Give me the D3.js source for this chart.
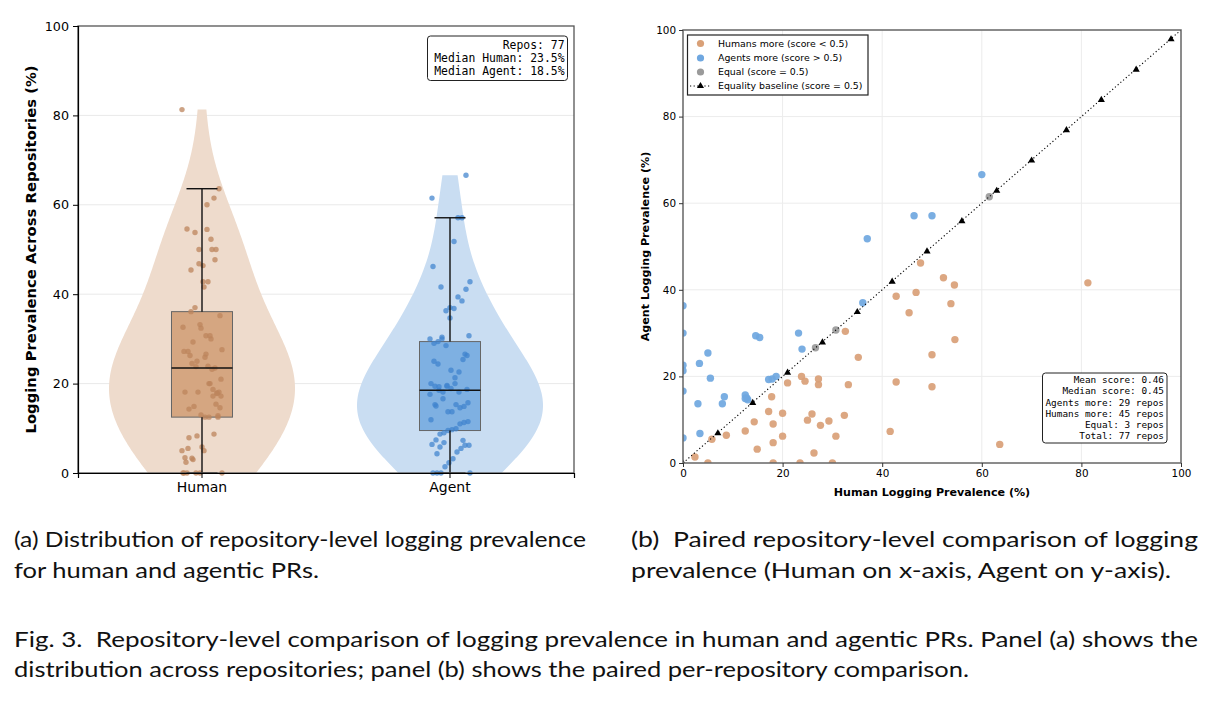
<!DOCTYPE html>
<html><head><meta charset="utf-8">
<script src="https://cdn.jsdelivr.net/npm/d3@7"></script>
<style>body{margin:0;background:#fff}svg{display:block}</style>
</head><body>
<svg id="c" width="1214" height="703"></svg>
<script>
// ---------- DATA ----------
const categories = ["Human", "Agent"];
// paired repository values (Human %, Agent %)
const humanVals = [
  81.3,63.6,47.7,52.3,54.5,42.8,46.8,53.8,45.4,54.6,32.6,35.2,50.0,50.0,42.8,41.6,33.2,23.8,24.5,27.2,27.2,21.0,17.8,17.2,20.0,25.9,32.4,25.0,29.3,14.3,18.1,27.6,12.5,8.7,20.0,30.7,5.8,18.1,14.9,26.3,2.4,5.0,18.1,23.5,30.0,
  60.0,46.4,50.0,37.0,36.1,0,0,14.6,15.4,23.2,23.9,5.0,0,0,3.3,5.5,0,17.2,17.9,18.7,12.5,12.5,13.0,8.3,3.0,7.9,3.4,0,12.8,
  61.5,30.7,26.6
];
const agentVals = [
  41.6,4.3,46.2,42.8,41.1,38.5,39.4,36.8,34.7,28.5,30.4,24.4,25.0,17.6,18.7,7.3,18.1,20.0,18.9,19.4,18.1,18.5,15.3,11.9,11.5,11.3,11.0,9.9,9.7,9.5,9.0,8.7,7.4,6.4,6.2,6.2,5.5,4.7,3.2,2.3,1.4,0,0,0,0,
  66.6,57.1,57.1,51.8,37.0,36.3,30.0,29.4,29.0,30.0,26.3,25.4,22.6,21.3,23.0,19.6,16.6,19.3,19.4,20.0,15.7,14.9,14.6,15.3,13.7,13.7,6.8,5.8,15.0,
  61.5,30.7,26.6
];
const yTicks = [0, 20, 40, 60, 80, 100];
const xTicksR = [0, 20, 40, 60, 80, 100];
const baselineMarks = [0,7,14,21,28,35,42,49,56,63,70,77,84,91,98];
const leftStats = ["Repos: 77", "Median Human: 23.5%", "Median Agent: 18.5%"];
const rightStats = ["Mean score: 0.46","Median score: 0.45","Agents more: 29 repos","Humans more: 45 repos","Equal: 3 repos","Total: 77 repos"];
const legendLabels = ["Humans more (score < 0.5)","Agents more (score > 0.5)","Equal (score = 0.5)","Equality baseline (score = 0.5)"];
const captionA = ["(a) Distribution of repository-level logging prevalence","for human and agentic PRs."];
const captionB = ["(b)  Paired repository-level comparison of logging","prevalence (Human on x-axis, Agent on y-axis)."];
const captionFig = ["Fig. 3.  Repository-level comparison of logging prevalence in human and agentic PRs. Panel (a) shows the","distribution across repositories; panel (b) shows the paired per-repository comparison."];

// ---------- STYLE ----------
const C = {
  hViolin:"#eedbcc", aViolin:"#c9ddf2",
  hBox:"#d5a681", aBox:"#7eb0e2",
  hPt:"rgba(188,132,92,0.75)", aPt:"rgba(62,130,205,0.72)",
  sHuman:"#d9a077", sAgent:"#6fa7e0", sEqual:"#9a9a9a"
};
const svg = d3.select("#c");
const font = "DejaVu Sans, sans-serif";
const mono = "DejaVu Sans Mono, monospace";

// ================= LEFT PANEL =================
const L = {x0:78, x1:574, y0:26, y1:473};
const yL = d3.scaleLinear().domain([0,100]).range([L.y1, L.y0]);
const xL = d3.scaleBand().domain(categories).range([L.x0, L.x1]).padding(0);
const cx = c => xL(c) + xL.bandwidth()/2;

const gL = svg.append("g");
gL.selectAll("line.grid").data(yTicks.filter(t=>t>0 && t<100)).enter().append("line")
  .attr("x1",L.x0).attr("x2",L.x1).attr("y1",d=>yL(d)).attr("y2",d=>yL(d))
  .attr("stroke","#e9e9e9").attr("stroke-width",1);

const series = {Human: humanVals, Agent: agentVals};
function kde(vals){
  const n = vals.length, sd = d3.deviation(vals);
  const bw = 1.45 * sd * Math.pow(n, -0.2);
  const lo = d3.min(vals), hi = d3.max(vals);
  const pts = d3.range(0, 201).map(i => lo + (hi-lo)*i/200);
  return pts.map(v => [v, d3.mean(vals, x => Math.exp(-0.5*((v-x)/bw)**2))]);
}
const halfMax = 93;
categories.forEach((c,ci) => {
  const dens = kde(series[c]);
  const m = d3.max(dens, d=>d[1]);
  const w = d3.scaleLinear().domain([0,m]).range([0,halfMax]);
  const area = d3.area().curve(d3.curveBasis)
    .x0(d => cx(c) - w(d[1])).x1(d => cx(c) + w(d[1])).y(d => yL(d[0]));
  gL.append("path").datum(dens).attr("d", area)
    .attr("fill", ci===0 ? C.hViolin : C.aViolin);
});
const boxW = 61;
const stats = {};
categories.forEach((c,ci) => {
  const s = series[c].slice().sort(d3.ascending);
  const q1 = d3.quantileSorted(s,0.25), q2 = d3.quantileSorted(s,0.5), q3 = d3.quantileSorted(s,0.75);
  const iqr = q3-q1;
  const hiW = d3.max(s.filter(v => v <= q3+1.5*iqr));
  const loW = d3.min(s.filter(v => v >= q1-1.5*iqr));
  stats[c] = {q1,q2,q3,hiW,loW};
  gL.append("rect").attr("x",cx(c)-boxW/2).attr("width",boxW)
    .attr("y",yL(q3)).attr("height",yL(q1)-yL(q3))
    .attr("fill", ci===0 ? C.hBox : C.aBox).attr("stroke","#666").attr("stroke-width",1);
});
// strip points (deterministic jitter offsets)
categories.forEach((c,ci) => {
  gL.selectAll("circle.s"+ci).data(series[c]).enter().append("circle")
    .attr("cx",(d,i) => cx(c) + ((((i*37+ci*11)%41)/40) - 0.5) * 40)
    .attr("cy",d => yL(d)).attr("r",2.7)
    .attr("fill", ci===0 ? C.hPt : C.aPt);
});
categories.forEach(c => {
  const st = stats[c];
  gL.append("line").attr("x1",cx(c)).attr("x2",cx(c)).attr("y1",yL(st.q3)).attr("y2",yL(st.hiW)).attr("stroke","#111").attr("stroke-width",1.4);
  gL.append("line").attr("x1",cx(c)).attr("x2",cx(c)).attr("y1",yL(st.q1)).attr("y2",yL(st.loW)).attr("stroke","#111").attr("stroke-width",1.4);
  [st.hiW, st.loW].forEach(v => gL.append("line").attr("x1",cx(c)-15.5).attr("x2",cx(c)+15.5)
    .attr("y1",yL(v)).attr("y2",yL(v)).attr("stroke","#111").attr("stroke-width",1.4));
  gL.append("line").attr("x1",cx(c)-boxW/2).attr("x2",cx(c)+boxW/2).attr("y1",yL(st.q2)).attr("y2",yL(st.q2))
    .attr("stroke","#111").attr("stroke-width",1.6);
});
gL.append("rect").attr("x",L.x0).attr("y",L.y0).attr("width",L.x1-L.x0).attr("height",L.y1-L.y0)
  .attr("fill","none").attr("stroke","#555").attr("stroke-width",1.3);
const axL = gL.append("g").attr("transform",`translate(${L.x0},0)`)
  .call(d3.axisLeft(yL).tickValues(yTicks).tickSize(5).tickPadding(4));
axL.select(".domain").attr("stroke","#000").attr("stroke-width",1.2);
axL.selectAll("text").attr("font-family",font).attr("font-size",12.7).attr("fill","#000");
const axLb = gL.append("g").attr("transform",`translate(0,${L.y1})`)
  .call(d3.axisBottom(xL).tickSize(5).tickPadding(4));
axLb.select(".domain").attr("stroke","#000").attr("stroke-width",1.2);
axLb.selectAll("text").attr("font-family",font).attr("font-size",14).attr("fill","#000");
gL.append("text").attr("transform",`translate(31,${(L.y0+L.y1)/2}) rotate(-90)`)
  .attr("text-anchor","middle").attr("dy","0.35em").attr("font-family",font)
  .attr("font-weight","bold").attr("font-size",14.8).text("Logging Prevalence Across Repositories (%)");
gL.append("rect").attr("x",427.5).attr("y",36).attr("width",140).attr("height",44.5).attr("rx",3)
  .attr("fill","#fff").attr("stroke","#222").attr("stroke-width",1);
gL.selectAll("text.ls").data(leftStats).enter().append("text")
  .attr("x",564.5).attr("y",(d,i)=>45+i*13.2).attr("dy","0.35em").attr("text-anchor","end")
  .attr("font-family",mono).attr("font-size",11.4).text(d=>d);

// ================= RIGHT PANEL =================
const R = {x0:683, x1:1181, y0:30, y1:463};
const xR = d3.scaleLinear().domain([0,100]).range([R.x0,R.x1]);
const yR = d3.scaleLinear().domain([0,100]).range([R.y1,R.y0]);
const gR = svg.append("g");
svg.append("defs").append("clipPath").attr("id","clipR").append("rect")
  .attr("x",R.x0).attr("y",R.y0).attr("width",R.x1-R.x0).attr("height",R.y1-R.y0);
gR.selectAll("line.gx").data(xTicksR.filter(t=>t>0&&t<100)).enter().append("line")
  .attr("x1",d=>xR(d)).attr("x2",d=>xR(d)).attr("y1",R.y0).attr("y2",R.y1).attr("stroke","#ececec");
gR.selectAll("line.gy").data(yTicks.filter(t=>t>0&&t<100)).enter().append("line")
  .attr("y1",d=>yR(d)).attr("y2",d=>yR(d)).attr("x1",R.x0).attr("x2",R.x1).attr("stroke","#ececec");
const pairs = humanVals.map((h,i) => ({h, a: agentVals[i]}));
const grp = p => p.a > p.h ? "agent" : (p.a < p.h ? "human" : "equal");
const colorOf = {human:C.sHuman, agent:C.sAgent, equal:C.sEqual};
const gp = gR.append("g").attr("clip-path","url(#clipR)");
["human","agent","equal"].forEach(k => {
  gp.selectAll("circle."+k).data(pairs.filter(p=>grp(p)===k)).enter().append("circle")
    .attr("cx",d=>xR(d.h)).attr("cy",d=>yR(d.a)).attr("r",3.7).attr("fill",colorOf[k]).attr("fill-opacity",0.92);
});
gp.append("line").attr("x1",xR(0)).attr("y1",yR(0)).attr("x2",xR(100)).attr("y2",yR(100))
  .attr("stroke","#000").attr("stroke-width",1.1).attr("stroke-dasharray","1.2,2.4");
const tri = d3.symbol().type(d3.symbolTriangle).size(22);
gp.selectAll("path.tri").data(baselineMarks).enter().append("path")
  .attr("d",tri).attr("transform",d=>`translate(${xR(d)},${yR(d)+0.6})`).attr("fill","#000");
gR.append("rect").attr("x",R.x0).attr("y",R.y0).attr("width",R.x1-R.x0).attr("height",R.y1-R.y0)
  .attr("fill","none").attr("stroke","#666").attr("stroke-width",1.5);
const axRy = gR.append("g").attr("transform",`translate(${R.x0},0)`)
  .call(d3.axisLeft(yR).tickValues(yTicks).tickSize(4).tickPadding(3));
axRy.select(".domain").remove();
axRy.selectAll("line").attr("stroke","#333");
axRy.selectAll("text").attr("font-family",font).attr("font-size",10.4).attr("fill","#000");
const axRx = gR.append("g").attr("transform",`translate(0,${R.y1})`)
  .call(d3.axisBottom(xR).tickValues(xTicksR).tickSize(4).tickPadding(3));
axRx.select(".domain").remove();
axRx.selectAll("line").attr("stroke","#333");
axRx.selectAll("text").attr("font-family",font).attr("font-size",10.4).attr("fill","#000");
gR.append("text").attr("x",(R.x0+R.x1)/2).attr("y",492).attr("dy","0.35em").attr("text-anchor","middle")
  .attr("font-family",font).attr("font-weight","bold").attr("font-size",11.1).text("Human Logging Prevalence (%)");
gR.append("text").attr("transform",`translate(645,${(R.y0+R.y1)/2}) rotate(-90)`).attr("dy","0.35em")
  .attr("text-anchor","middle").attr("font-family",font).attr("font-weight","bold").attr("font-size",11.1)
  .text("Agent Logging Prevalence (%)");
const lg = gR.append("g");
lg.append("rect").attr("x",687.5).attr("y",35).attr("width",180.5).attr("height",60)
  .attr("fill","#fff").attr("stroke","#222").attr("stroke-width",1.2);
const legY = [43.5,58,72,86];
[C.sHuman,C.sAgent,C.sEqual].forEach((col,i)=>{
  lg.append("circle").attr("cx",700.5).attr("cy",legY[i]).attr("r",3.6).attr("fill",col);
});
lg.append("line").attr("x1",690).attr("x2",711).attr("y1",legY[3]).attr("y2",legY[3])
  .attr("stroke","#000").attr("stroke-width",1.1).attr("stroke-dasharray","1.2,2.4");
lg.append("path").attr("d",tri).attr("transform",`translate(700.5,${legY[3]})`).attr("fill","#000");
lg.selectAll("text").data(legendLabels).enter().append("text")
  .attr("x",718).attr("y",(d,i)=>legY[i]).attr("dy","0.35em").attr("font-family",font)
  .attr("font-size",9.4).text(d=>d);
gR.append("rect").attr("x",1042.5).attr("y",373).attr("width",124.5).attr("height",70).attr("rx",3)
  .attr("fill","#fff").attr("stroke","#222").attr("stroke-width",1);
gR.selectAll("text.rs").data(rightStats).enter().append("text")
  .attr("x",1164).attr("y",(d,i)=>380+i*11.2).attr("dy","0.35em").attr("text-anchor","end")
  .attr("font-family",mono).attr("font-size",9.4).text(d=>d);

// ================= CAPTIONS =================
const capFont = "Lato, 'Open Sans', sans-serif";
function cap(lines, x, ys, widths){
  lines.forEach((t,i)=>{
    const el = svg.append("text").attr("x",x).attr("y",ys[i]).attr("font-family",capFont)
      .attr("font-size",22).attr("fill","#111").style("white-space","pre").text(t);
    if (widths[i]) el.attr("textLength",widths[i]).attr("lengthAdjust","spacingAndGlyphs");
  });
}
cap(captionA, 14, [547,578], [572,305]);
cap(captionB, 631, [547,578], [567,540]);
cap(captionFig, 14, [647,677], [1184,955]);
</script>
</body></html>
